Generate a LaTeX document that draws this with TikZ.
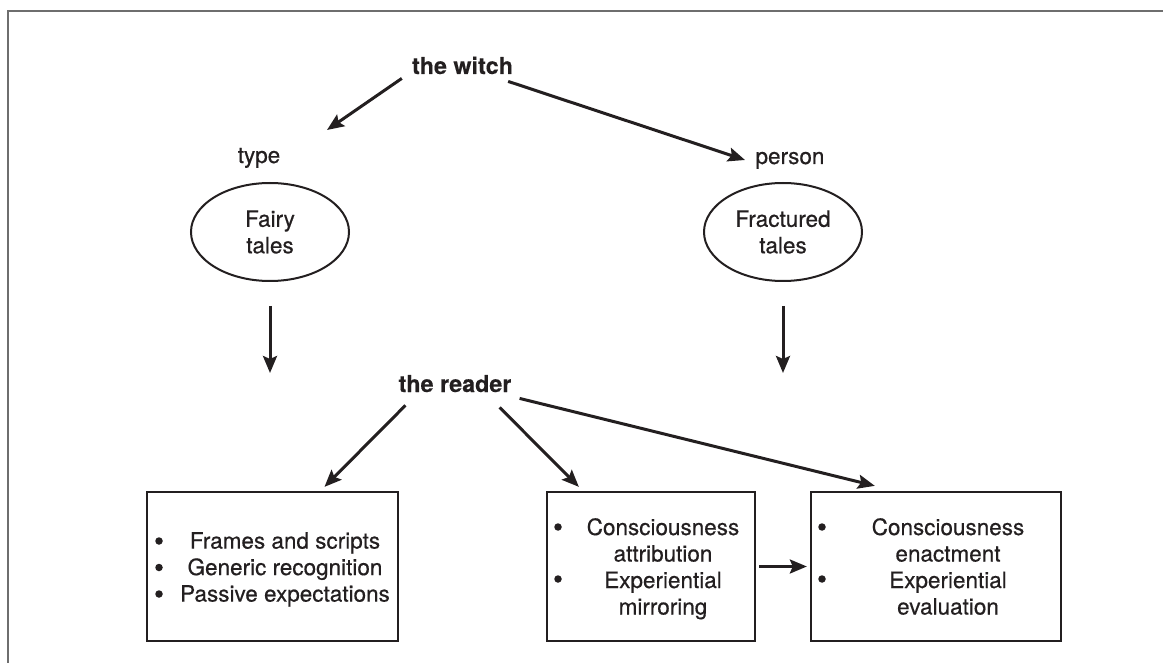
\documentclass[tikz,border=0pt]{standalone}
\usepackage{fontspec}
\setmainfont{TeX Gyre Heros}[FakeBold=0.5]
\newfontfamily\titlefont{TeX Gyre Heros Bold}[FakeBold=0.3]
\usetikzlibrary{arrows.meta,shapes.geometric,calc}
\definecolor{ink}{RGB}{35,31,32}
\definecolor{framegray}{RGB}{110,110,110}
\begin{document}
\begin{tikzpicture}[x=1pt,y=-1pt,
  every node/.style={text=ink, font=\fontsize{22.5}{26.5}\selectfont},
  title/.style={font=\titlefont\fontsize{23.3}{27}\selectfont, inner sep=0pt},
  lab/.style={inner sep=0pt},
  oval/.style={ellipse, draw=ink, line width=2pt, minimum width=158pt, minimum height=98pt, align=center, inner sep=0pt},
  boxnode/.style={draw=ink, line width=2.3pt, minimum height=149pt, inner sep=0pt},
  txt/.style={align=center, inner sep=0pt, anchor=north},
  bul/.style={circle, fill=ink, inner sep=0pt, minimum size=7.5pt},
  arr/.style={draw=ink, line width=3pt, -{Stealth[length=17pt,width=14pt,inset=3pt]}},
]
\useasboundingbox (0,0) rectangle (1163,663);
% outer frame (partial)
\draw[framegray, line width=1.6pt] (1163,11) -- (8,11) -- (8,663);

% top
\node[title, anchor=base] (witch) at (462.5,74) {the witch};
\node[lab, anchor=base] (type) at (259,163) {type};
\node[lab, anchor=base] (person) at (790,164) {person};
\node[oval] (fairy) at (270,232) {Fairy\\tales};
\node[oval] (fract) at (783,232) {Fractured\\tales};

\coordinate (tipType) at (327,130);
\coordinate (tipPerson) at (745,160);
\draw[arr] ($(witch.south west)+(-10,4)$) -- (tipType);
\draw[arr] ($(witch.south east)+(-5,7)$) -- (tipPerson);

\coordinate (downL) at (270,373);
\coordinate (downR) at (783,373);
\draw[arr, shorten <=24pt] (fairy.south) -- (downL);
\draw[arr, shorten <=24pt] (fract.south) -- (downR);

% reader
\node[title, anchor=base] (reader) at (455,392) {the reader};

% boxes
\node[boxnode, minimum width=251pt] (b1) at (272.5,566.5) {};
\node[boxnode, minimum width=208pt] (b2) at (651,566.5) {};
\node[boxnode, minimum width=250pt] (b3) at (936,566.5) {};

\node[txt] (t1) at (285,532) {Frames and scripts\\Generic recognition\\Passive expectations};
\node[txt] (t2) at (663,518) {Consciousness\\attribution\\Experiential\\mirroring};
\node[txt] (t3) at (948,518) {Consciousness\\enactment\\Experiential\\evaluation};

\node[bul] (p1a) at (159,541) {};
\node[bul] (p1b) at (159,567.5) {};
\node[bul] (p1c) at (159,594) {};
\node[bul] (p2a) at (558,527) {};
\node[bul] (p2b) at (558,579) {};
\node[bul] (p3a) at (822,527) {};
\node[bul] (p3b) at (822,579) {};

\draw[arr] ($(reader.south west)+(7,13)$) -- ($(b1.north)+(52,-4)$);
\draw[arr] ($(reader.south east)+(-12,15)$) -- ($(b2.north west)+(33,-4)$);
\draw[arr] ($(reader.south east)+(8,6)$) -- ($(b3.north west)+(65,-5)$);
\draw[arr, shorten <=3pt, shorten >=3pt] (b2) -- (b3);
\end{tikzpicture}
\end{document}
